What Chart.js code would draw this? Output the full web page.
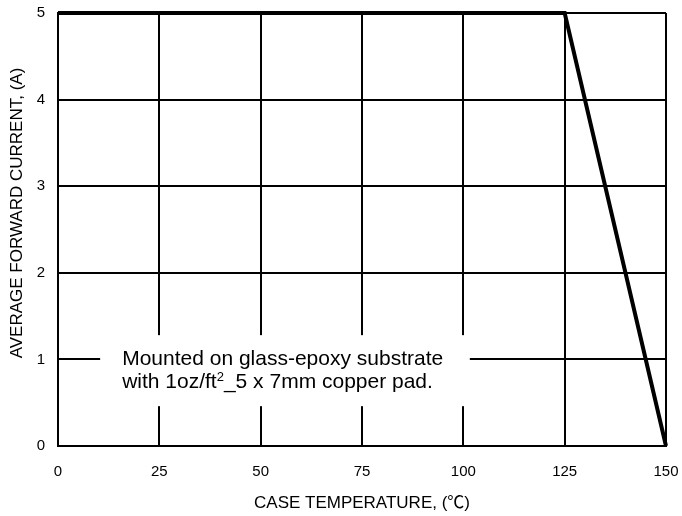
<!DOCTYPE html>
<html>
<head>
<meta charset="utf-8">
<script src="https://cdn.jsdelivr.net/npm/chart.js@4/dist/chart.umd.min.js"></script>
<style>
  html, body { margin: 0; padding: 0; background: #fff; }
  #wrap { width: 682px; height: 516px; }
</style>
</head>
<body>
<div id="wrap"><canvas id="chart" width="682" height="516"></canvas></div>
<script>
// Derating curve
const temps = [0, 125, 150];
const currents = [5, 5, 0];
const xTicks = [0, 25, 50, 75, 100, 125, 150];
const yTicks = [0, 1, 2, 3, 4, 5];
const yTitle = 'AVERAGE FORWARD CURRENT, (A)';
const xTitle = 'CASE TEMPERATURE, (\u2103)';
const noteLines = ['Mounted on glass-epoxy substrate', 'with 1oz/ft', '2', '_5 x 7mm copper pad.'];

const FONT = '"Liberation Sans", Arial, "Noto Sans CJK JP", sans-serif';

// white box with the mounting note, drawn over the grid, plus the y title
const notePlugin = {
    id: 'note',
    beforeDatasetsDraw(chart) {
        const { ctx, scales: { x, y } } = chart;
        const left = x.getPixelForValue(10.4);
        const right = x.getPixelForValue(101.6);
        const top = y.getPixelForValue(1.28);
        const bottom = y.getPixelForValue(0.46);
        ctx.save();
        ctx.fillStyle = '#fff';
        ctx.fillRect(left, top, right - left, bottom - top);
        ctx.fillStyle = '#000';
        ctx.font = '21px ' + FONT;
        ctx.textBaseline = 'alphabetic';
        const tx = left + 22;
        ctx.fillText(noteLines[0], tx, top + 30);
        const y2 = top + 53;
        ctx.fillText(noteLines[1], tx, y2);
        let w = ctx.measureText(noteLines[1]).width;
        ctx.font = '13px ' + FONT;
        ctx.fillText(noteLines[2], tx + w, y2 - 7);
        w += ctx.measureText(noteLines[2]).width;
        ctx.font = '21px ' + FONT;
        ctx.fillText(noteLines[3], tx + w, y2);
        ctx.restore();
    },
    afterDraw(chart) {
        const { ctx, chartArea } = chart;
        ctx.save();
        ctx.translate(17, chartArea.top + 200);
        ctx.rotate(-Math.PI / 2);
        ctx.fillStyle = '#000';
        ctx.font = '17px ' + FONT;
        ctx.textAlign = 'center';
        ctx.textBaseline = 'middle';
        ctx.fillText(yTitle, 0, 0);
        ctx.restore();
    }
};

new Chart(document.getElementById('chart'), {
    type: 'scatter',
    data: {
        datasets: [{
            data: temps.map((t, i) => ({ x: t, y: currents[i] })),
            showLine: true,
            borderColor: '#000',
            borderWidth: 4,
            pointRadius: 0,
            clip: false
        }]
    },
    options: {
        responsive: false,
        animation: false,
        layout: { padding: 0 },
        plugins: { legend: { display: false }, tooltip: { enabled: false } },
        scales: {
            x: {
                type: 'linear',
                min: 0, max: 150,
                afterBuildTicks: s => { s.ticks = xTicks.map(v => ({ value: v })); },
                afterFit: s => { s.height = 70; s.paddingRight = 16; s.paddingLeft = 0; },
                grid: { color: '#000', lineWidth: 2, drawTicks: false },
                border: { color: '#000', width: 2 },
                ticks: { color: '#000', font: { family: FONT, size: 15 }, padding: 17, maxRotation: 0 },
                title: { display: true, text: xTitle, color: '#000',
                         font: { family: FONT, size: 17 }, padding: { top: 4, bottom: 2 } }
            },
            y: {
                type: 'linear',
                min: 0, max: 5,
                afterBuildTicks: s => { s.ticks = yTicks.map(v => ({ value: v })); },
                afterFit: s => { s.width = 58; s.paddingTop = 13; s.paddingBottom = 0; },
                grid: { color: '#000', lineWidth: 2, drawTicks: false },
                border: { color: '#000', width: 2 },
                ticks: { color: '#000', font: { family: FONT, size: 15 }, padding: 13 }
            }
        }
    },
    plugins: [notePlugin]
});
</script>
</body>
</html>
